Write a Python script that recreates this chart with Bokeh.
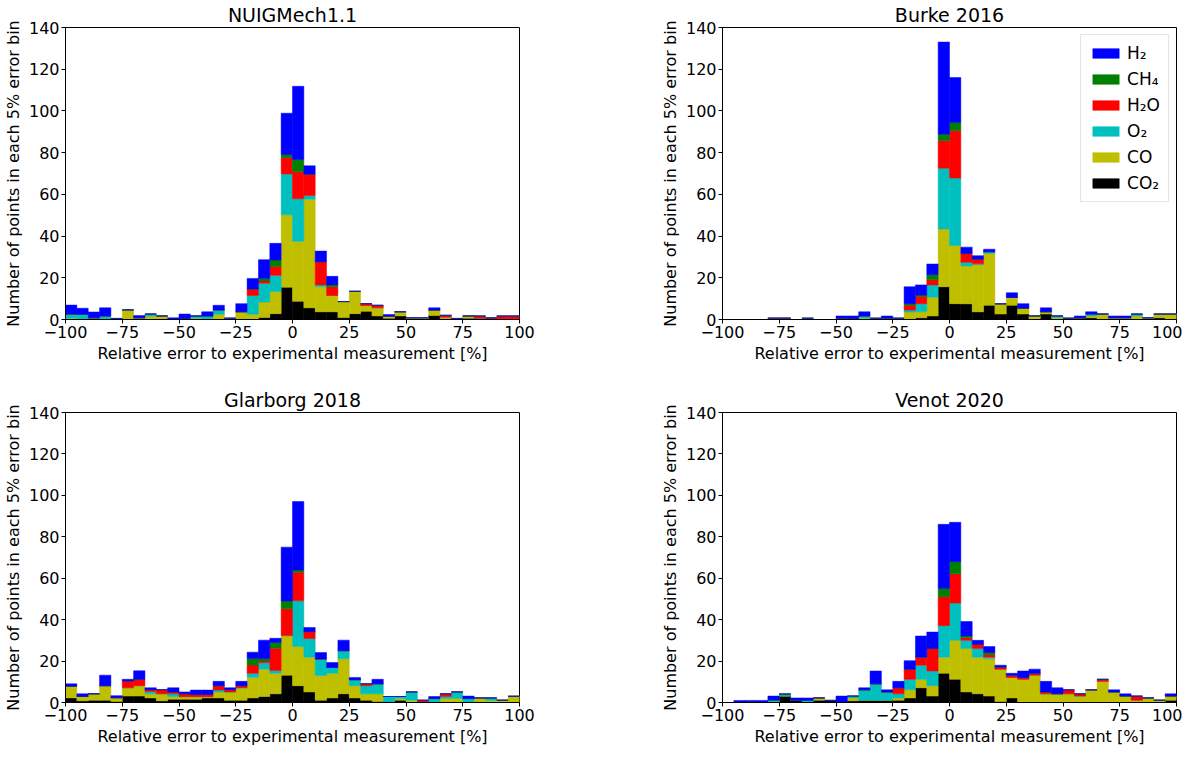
from bokeh.plotting import figure
from bokeh.layouts import gridplot
from bokeh.models import ColumnDataSource, CustomJSTickFormatter, Legend, LegendItem
from bokeh.embed import file_html
from bokeh.resources import INLINE

# 5 % error bins from -100 to 100
bin_left = list(range(-100, 100, 5))
x_ticks = [-100, -75, -50, -25, 0, 25, 50, 75, 100]
y_ticks = [0, 20, 40, 60, 80, 100, 120, 140]

species = ["co2", "co", "o2", "h2o", "ch4", "h2"]
labels = ["CO₂", "CO", "O₂", "H₂O", "CH₄", "H₂"]
colors = ["#000000", "#bfbf00", "#00bfbf", "#ff0000", "#008000", "#0000ff"]

# NUIGMech1.1
nuig_co2 = [0, 0, 0, 0, 0, 0, 0, 0, 0, 0,
            0, 0, 0, 0, 0, 0, 0, 1, 2.8, 15.5,
            8.7, 5.6, 3.7, 3.7, 0.9, 2.8, 3.9, 1.7, 0.6, 1.7,
            0, 0, 1.9, 0.3, 0, 0.6, 0.6, 0, 0, 0]
nuig_co = [0.6, 0, 0, 0, 0, 4.6, 0.8, 1.5, 1.7, 0,
           0.5, 0.6, 0, 2.5, 0.6, 3.7, 2.5, 7.4, 10.6, 34.7,
           28.8, 52.1, 12, 7.8, 7.7, 10.7, 2.8, 3.9, 1, 2,
           0.8, 0.8, 2.6, 0.8, 0.5, 1.1, 0, 0, 0, 0]
nuig_o2 = [2, 2.5, 0.8, 1.7, 0.5, 0, 0, 1.1, 0, 0,
           0, 1.1, 1.7, 2.1, 0, 0, 9, 9, 7.8, 19.6,
           20.4, 1.7, 0.9, 0, 0, 0, 0, 0, 0, 0,
           0, 0, 0, 0, 0, 0, 0, 0, 0, 0]
nuig_h2o = [0, 0, 0, 0, 0, 0, 0, 0, 0, 0,
            0, 0, 0, 0, 0, 0, 3.1, 1.1, 4.2, 7.8,
            12.9, 10.3, 11.1, 4.2, 0, 0, 0.9, 1.2, 0, 0,
            0, 0, 0, 0.9, 0, 0, 1.1, 0.8, 1.7, 1.7]
nuig_ch4 = [0, 0, 0, 0, 0, 0, 0, 0, 0, 0,
            0, 0, 0, 0, 0, 0, 0, 1.2, 3.1, 1.4,
            5.9, 0, 0, 0.9, 0, 0, 0, 0, 0, 0,
            0, 0, 0, 0, 0, 0, 0, 0, 0, 0]
nuig_h2 = [4.3, 2.9, 2.8, 3.9, 0, 0, 1.1, 0, 0, 0.8,
           2.1, 0, 2, 2.2, 0, 3.9, 5.1, 9, 8, 19.9,
           35.1, 4, 5.1, 4.1, 0, 0, 0, 0, 0.8, 0,
           0, 0, 1.1, 0, 0, 0, 0, 0, 0, 0]

# Burke 2016
burke_co2 = [0, 0, 0, 0, 0, 0, 0, 0, 0, 0,
             0, 0, 0, 0, 0, 0, 0, 0.8, 1.7, 15.7,
             7.6, 7.5, 3.7, 6.8, 2.6, 6.8, 2.6, 0, 2.6, 0,
             0, 0.8, 0.8, 0, 0, 0, 0, 0, 0.8, 0]
burke_co = [0, 0, 0, 0, 0, 0, 0, 0.6, 0, 0,
            0, 0.5, 0.6, 0, 0, 0.6, 3.6, 2.9, 9, 27.7,
            27.9, 18.2, 22.6, 24.9, 4.9, 3.8, 2.8, 1.7, 1.1, 0.8,
            0.6, 0, 0.9, 2.6, 0.8, 0.8, 1.7, 0.8, 1.8, 2.6]
burke_o2 = [0, 0, 0, 0, 0, 0, 0, 0, 0, 0,
            0, 0, 1.1, 0.6, 0.6, 0, 0.9, 3.9, 5.9, 29.1,
            32.3, 1.7, 0.4, 0.8, 0, 0, 0, 0, 0, 0.9,
            0, 0, 0.9, 0, 0, 0, 0.9, 0, 0, 0]
burke_h2o = [0, 0, 0, 0, 0.7, 0.7, 0, 0, 0, 0,
             0.6, 0, 0, 0, 0, 0, 2.3, 3.4, 2.4, 13.2,
             22.7, 4.3, 2.2, 0, 0, 0, 0, 0, 0, 0,
             0, 0, 0, 0, 0, 0, 0, 0, 0, 0]
burke_ch4 = [0, 0, 0, 0, 0, 0, 0, 0, 0, 0,
             0, 0, 0, 0, 0, 0, 0.8, 0.7, 2.5, 3.1,
             3.9, 0, 0, 0, 0, 0, 0, 0, 0, 0,
             0, 0, 0, 0, 0, 0, 0, 0, 0, 0]
burke_h2 = [0, 0, 0, 0, 0, 0, 0, 0, 0, 0,
            1.1, 1.2, 2, 0, 1.1, 0, 8.1, 4.9, 5.1, 44.2,
            21.6, 3, 1.7, 1.2, 0, 2.2, 2.2, 0, 1.9, 0,
            0, 0.9, 1.1, 0, 0.9, 0.9, 0, 0, 0, 0]

# Glarborg 2018
glar_co2 = [2.2, 0.8, 1.1, 1.1, 0.5, 3.1, 3.1, 2.2, 0.8, 1.6,
            1.6, 1.6, 2.2, 2.2, 1.1, 1.1, 2.2, 2.9, 4.2, 13.2,
            8.1, 5.1, 1.1, 2.2, 4.2, 2.2, 1.1, 0.5, 0, 1.1,
            0, 0, 0, 0, 0, 0, 0, 0, 0, 0]
glar_co = [5.7, 2.1, 3.1, 7, 1.8, 4, 5, 2, 3.4, 1.3,
           1.2, 1.2, 0.6, 2.9, 4, 6, 10, 13.2, 9.9, 19.1,
           18.9, 16.8, 11.9, 11.9, 16.9, 5.9, 3.1, 3.7, 0, 0.8,
           1.1, 0, 0, 1.9, 1.9, 0, 2.2, 1, 1.1, 3]
glar_o2 = [0, 0, 0, 0, 0, 0, 0, 1.1, 0, 1.3,
           0, 0, 0, 0.9, 0, 0, 1.9, 3.1, 1.3, 0,
           22.1, 9, 8, 2.8, 3.9, 2.9, 3.9, 4.8, 2.9, 1,
           4, 0, 1.9, 1, 3.2, 1.9, 0, 1.2, 0, 0]
glar_h2o = [0, 0, 0, 0, 0, 3.3, 3.1, 0.9, 2, 0.9,
            1.4, 1.1, 1.1, 2.1, 1.1, 1, 4, 0.8, 10.8, 13,
            13.8, 3.3, 0, 0, 0, 0, 0.9, 0, 0, 0,
            0, 1.1, 0, 1.3, 0, 0, 0, 0, 0, 0]
glar_ch4 = [0, 0, 0, 0, 0, 0, 0, 0, 0, 0,
            0, 0, 0, 0, 0, 0, 3.1, 1.1, 2.8, 3.7,
            1.1, 0, 0, 0, 0, 0, 0, 0, 0, 0,
            0, 0, 0, 0, 0, 0, 0, 0, 0, 0]
glar_h2 = [1.1, 1.3, 0, 5.1, 1, 0.8, 4.1, 0.9, 0, 2,
           0.9, 2.1, 2.1, 2.1, 0.9, 2.1, 3.1, 9, 2, 26,
           33, 2, 3.1, 2.4, 5.1, 1.1, 0, 2.2, 0, 0,
           0, 0, 1, 0, 0, 1.2, 0, 0, 0, 0]

# Venot 2020
ven_co2 = [0, 0, 0.5, 0, 0, 3.1, 1.1, 0, 1.1, 1,
           0, 0.8, 1.1, 1.1, 1.1, 1.1, 2.2, 7.1, 3.1, 14.1,
           11.2, 5.1, 4.2, 3.1, 0.5, 2.2, 0, 0, 0, 0,
           0, 0, 0, 0, 0, 0, 0, 0, 0, 1.1]
ven_co = [0, 0, 0, 0, 0, 0, 0, 0, 1.1, 0,
          0, 1.4, 0, 0, 0, 1.1, 3.9, 4.1, 5, 7.8,
          18.8, 21, 17.7, 18, 15.6, 9.9, 11.2, 13.2, 4.2, 4.2,
          4.2, 3.1, 6.1, 10.2, 5.1, 3.1, 1.1, 2.2, 1.1, 2]
ven_o2 = [0, 0, 0, 0, 1.2, 0.7, 0, 1.1, 0, 0,
          0, 0.9, 5, 7.9, 4, 2, 5.1, 6.8, 7.1, 15.2,
          18, 3.9, 4.2, 0.8, 0, 0, 0, 0, 0, 0,
          0, 0, 0, 0, 0, 0, 0, 0, 0, 0]
ven_h2o = [0, 0, 0, 0, 0, 0, 0, 0, 0, 0,
           0, 0, 0, 0, 0, 2.9, 4.9, 3.9, 10.9, 14,
           14.1, 1.2, 2, 1.2, 1, 1.1, 0.9, 0.9, 0.9, 0,
           1.9, 1.1, 0, 1, 0, 0, 2, 0, 0, 0]
ven_ch4 = [0, 0, 0, 0, 0, 0.4, 0, 0, 0, 0,
           0, 0, 0, 0, 0, 0, 0, 0, 0, 3.9,
           5.9, 0.9, 0, 1, 0, 0, 0, 0, 0, 0,
           0, 0, 0, 0, 0, 0, 0, 0, 0, 0]
ven_h2 = [0, 1, 0.5, 1, 1.9, 0, 1.1, 1.1, 0, 0,
          3.1, 0, 1, 6.2, 1, 3.1, 4.1, 10.2, 7.9, 31,
          19, 7, 1.9, 2.9, 0.9, 0.9, 3.1, 2, 5.1, 2.9,
          0, 0, 0, 0, 1, 1.1, 0, 0, 0, 1.1]

FONT = "DejaVu Sans"
minus_fmt = CustomJSTickFormatter(code="return tick < 0 ? '\u2212' + Math.abs(tick) : tick.toString();")


def panel(title, cols, width, height, right, bottom, legend=False):
    src = ColumnDataSource(dict(x=[b + 2.5 for b in bin_left],
                                **dict(zip(species, cols))))
    p = figure(title=title, width=width, height=height,
               x_range=(-100, 100), y_range=(0, 140),
               output_backend="svg", toolbar_location=None,
               min_border_left=58, min_border_right=right,
               min_border_top=22, min_border_bottom=bottom)
    rs = p.vbar_stack(species, x="x", width=5, source=src,
                      fill_color=colors, line_color=colors, line_width=0.5)
    p.xgrid.visible = False
    p.ygrid.visible = False
    p.outline_line_color = "black"
    p.outline_line_alpha = 1
    p.title.align = "center"
    p.title.text_font = FONT
    p.title.text_font_size = "19px"
    p.title.text_font_style = "normal"
    p.title.text_color = "black"
    p.title.standoff = 3
    p.xaxis.ticker = x_ticks
    p.yaxis.ticker = y_ticks
    p.xaxis.formatter = minus_fmt
    p.xaxis.axis_label = "Relative error to experimental measurement [%]"
    p.yaxis.axis_label = "Number of points in each 5% error bin"
    for ax in (p.xaxis[0], p.yaxis[0]):
        ax.axis_line_color = "black"
        ax.major_tick_line_color = "black"
        ax.major_tick_out = 4
        ax.major_tick_in = 0
        ax.minor_tick_line_color = None
        ax.major_label_standoff = 2
        ax.axis_label_standoff = 3
        ax.major_label_text_font = FONT
        ax.major_label_text_font_size = "16px"
        ax.major_label_text_color = "black"
        ax.axis_label_text_font = FONT
        ax.axis_label_text_font_size = "16px"
        ax.axis_label_text_font_style = "normal"
        ax.axis_label_text_color = "black"
    if legend:
        items = [LegendItem(label=labels[i], renderers=[rs[i]]) for i in reversed(range(len(rs)))]
        leg = Legend(items=items, location="top_right")
        leg.label_text_font = FONT
        leg.label_text_font_size = "17px"
        leg.label_text_color = "black"
        leg.glyph_width = 33
        leg.glyph_height = 12
        leg.label_height = 19
        leg.spacing = 6
        leg.padding = 8
        leg.margin = 7
        leg.border_line_color = "#cccccc"
        leg.background_fill_alpha = 0.8
        p.add_layout(leg)
    return p


p1 = panel("NUIGMech1.1", [nuig_co2, nuig_co, nuig_o2, nuig_h2o, nuig_ch4, nuig_h2], 657, 385, 138, 66)
p2 = panel("Burke 2016", [burke_co2, burke_co, burke_o2, burke_h2o, burke_ch4, burke_h2], 525, 385, 6, 66, legend=True)
p3 = panel("Glarborg 2018", [glar_co2, glar_co, glar_o2, glar_h2o, glar_ch4, glar_h2], 657, 363, 138, 44)
p4 = panel("Venot 2020", [ven_co2, ven_co, ven_o2, ven_h2o, ven_ch4, ven_h2], 525, 363, 6, 44)

grid = gridplot([[p1, p2], [p3, p4]], toolbar_location=None)

open("out.html", "w").write(file_html(grid, INLINE))
